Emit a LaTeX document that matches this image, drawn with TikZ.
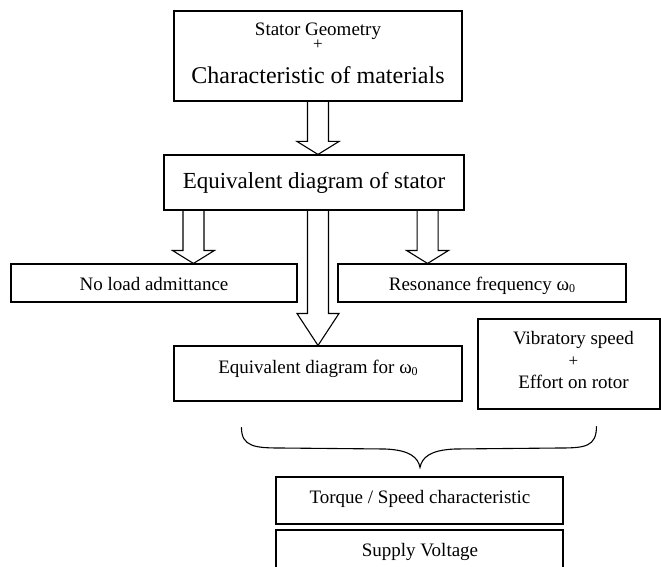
\documentclass[tikz,border=0pt]{standalone}
\usepackage{fontspec}
\setmainfont{Liberation Serif}
\usetikzlibrary{calc}
\newcommand{\wz}{ω\raisebox{-0.3ex}{\fontsize{12}{12}\selectfont 0}}
\tikzset{
  box/.style={draw=black, line width=1.1pt, inner sep=0pt},
  sm/.style={font=\fontsize{19}{22}\selectfont, inner sep=0pt, anchor=base},
  lg/.style={font=\fontsize{24}{28}\selectfont, inner sep=0pt, anchor=base},
  plus/.style={font=\fontsize{17}{19}\selectfont, inner sep=0pt, anchor=base},
  blk/.style={draw=black, line width=1.1pt, line join=miter},
  bracestyle/.style={draw=black, line width=1.1pt, line cap=round}
}
\newcommand{\blockarrow}[3]{%
  \draw[blk] ($(#1)+(-10.5,0)$) -- ($(#2)+(-10.5,-#3)$) -- ($(#2)+(-21,-#3)$) -- (#2)
    -- ($(#2)+(21,-#3)$) -- ($(#2)+(10.5,-#3)$) -- ($(#1)+(10.5,0)$);}
\begin{document}
\begin{tikzpicture}[x=1pt,y=-1pt]
\useasboundingbox (0,0) rectangle (661,567);
\fill[white] (0,0) rectangle (661,567);
% boxes
\node[box, minimum width=288pt, minimum height=90pt] (b1) at (318,56) {};
\node[box, minimum width=300pt, minimum height=55pt] (b2) at (314,182.5) {};
\node[box, minimum width=286pt, minimum height=38pt] (nl) at (154,283) {};
\node[box, minimum width=288pt, minimum height=38pt] (rf) at (482,283) {};
\node[box, minimum width=288pt, minimum height=55pt] (eq) at (318,373.5) {};
\node[box, minimum width=182pt, minimum height=90pt] (vs) at (569,364) {};
\node[box, minimum width=287pt, minimum height=47pt] (tq) at (419.5,500.5) {};
\node[box, minimum width=287pt, minimum height=50pt] (sv) at (419.5,555) {};
% texts
\node[inner sep=0pt, anchor=base] (t1) at (318,84) {\vbox{\offinterlineskip
  \hbox to 280pt{\hss\vrule height 14pt depth 5pt width 0pt\fontsize{19}{22}\selectfont Stator Geometry\hss}
  \hbox to 280pt{\hss\vrule height 9pt depth 17pt width 0pt\fontsize{17}{19}\selectfont +\hss}
  \hbox to 280pt{\hss\vrule height 17pt depth 6pt width 0pt\fontsize{24}{28}\selectfont Characteristic of materials\hss}}};
\node[lg, font=\fontsize{23}{27}\selectfont] (t2) at (314,188) {Equivalent diagram of stator};
\node[sm] (tnl) at (154,290) {No load admittance};
\node[sm] (trf) at (482,290) {Resonance frequency \wz};
\node[sm] (teq) at (318,373) {Equivalent diagram for \wz};
\node[sm] (tvs1) at (573.5,344) {Vibratory speed};
\node[plus] (tvs2) at (573.5,366) {+};
\node[sm] (tvs3) at (573.5,388) {Effort on rotor};
\node[sm] (ttq) at (420,503) {Torque / Speed characteristic};
\node[sm] (tsv) at (420,556) {Supply Voltage};
% block arrows
\coordinate (tA) at (b2.north -| b1.south);
\blockarrow{b1.south}{tA}{13}
\coordinate (sL) at ($(b2.south west)+(30,0)$);
\coordinate (tL) at (nl.north -| sL);
\blockarrow{sL}{tL}{13}
\coordinate (sR) at ($(b2.south east)+(-37,0)$);
\coordinate (tR) at (rf.north -| sR);
\blockarrow{sR}{tR}{13}
\coordinate (sC) at (b2.south -| eq.north);
\blockarrow{sC}{eq.north}{32}
% brace
\coordinate (brL) at ($(eq.south west)+(68,26)$);
\coordinate (brR) at ($(vs.south west)+(119,17)$);
\coordinate (brT) at ($(tq.north)+(0.5,-9)$);
\draw[bracestyle] (brL) .. controls +(0,19) and +(-25,0) .. (280,448) -- (385,449)
  .. controls +(25,1) and +(-2,-10) .. (brT)
  .. controls +(2,-10) and +(-25,1) .. (455,449) -- (560,448)
  .. controls +(25,0) and +(0,20) .. (brR);
\end{tikzpicture}
\end{document}
